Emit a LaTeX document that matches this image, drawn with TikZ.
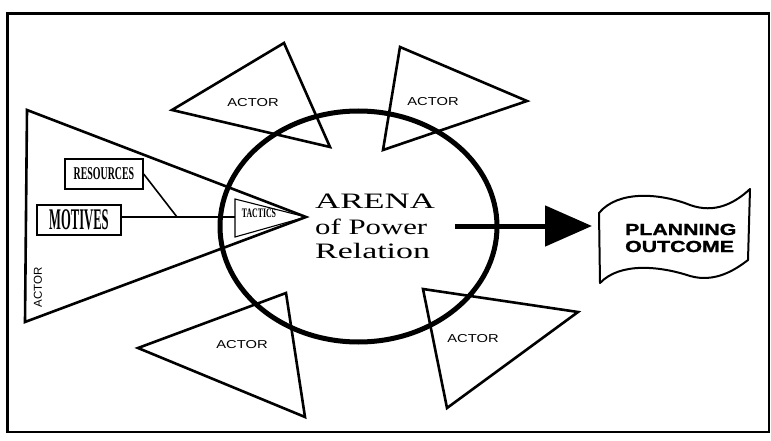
\documentclass[tikz,border=0pt]{standalone}
\usepackage{fontspec}
\setmainfont{Liberation Serif}
\setsansfont{Liberation Sans}
\newfontfamily\heavysans[FakeBold=1.2]{Liberation Sans Bold}
\usepackage{graphicx}
\usetikzlibrary{arrows.meta}
\begin{document}
\begin{tikzpicture}[x=1pt,y=-1pt,
  tri/.style={draw, line width=2.6pt, line join=miter},
  actortxt/.style={font=\sffamily\fontsize{11.5}{12}\selectfont, inner sep=0},
  boxnode/.style={draw, line width=1.4pt, inner sep=0},
  arenatxt/.style={font=\fontsize{22}{24}\selectfont, inner sep=0, anchor=base west},
  outtxt/.style={font=\heavysans\fontsize{16}{17}\selectfont, inner sep=0, anchor=base west}]
\useasboundingbox (0,0) rectangle (771,441);
% frame
\draw[line width=2.4pt] (7.5,13.5) rectangle (769,432);

% arena ellipse
\draw[line width=5pt] (358.5,226.5) ellipse [x radius=138.5pt, y radius=115.5pt];

% big left actor triangle
\coordinate (L1) at (27,110);
\coordinate (L2) at (25,322);
\coordinate (LT) at (306,217);
\draw[tri] (L1) -- (LT) -- (L2) -- cycle;
\node[actortxt, rotate=90] (actL) at (38,287) {ACTOR};

% tactics triangle
\coordinate (T1) at (235,199);
\coordinate (T2) at (235,237);
\coordinate (TW) at (235,217);
\draw[line width=1.1pt] (T1) -- (LT) -- (T2) -- cycle;
\node[inner sep=0] (tac) at (259,213) {\scalebox{0.6}[1]{\fontsize{13}{13}\selectfont\bfseries TACTICS}};

% boxes
\node[boxnode, minimum width=78pt, minimum height=30pt] (res) at (104,174)
  {\scalebox{0.55}[1]{\fontsize{18}{18}\selectfont\bfseries RESOURCES}};
\node[boxnode, minimum width=84pt, minimum height=30pt] (mot) at (79,220)
  {\scalebox{0.42}[1]{\fontsize{30}{30}\selectfont\bfseries MOTIVES}};
\coordinate (J) at (177,217);
\draw[line width=1.6pt] (mot.east |- J) -- (TW);
\draw[line width=1.6pt] (res.east) -- (J);

% top-left actor
\coordinate (a1) at (172,110);
\coordinate (a2) at (284,43);
\coordinate (a3) at (330,147);
\draw[tri] (a1) -- (a2) -- (a3) -- cycle;
\node[actortxt] (actTL) at (253,103) {\scalebox{1.28}[1]{ACTOR}};

% top-right actor
\coordinate (b1) at (400,47);
\coordinate (b2) at (527,101);
\coordinate (b3) at (383,150);
\draw[tri] (b1) -- (b2) -- (b3) -- cycle;
\node[actortxt] (actTR) at (433,102) {\scalebox{1.28}[1]{ACTOR}};

% bottom-left actor
\coordinate (c1) at (138,348);
\coordinate (c2) at (286,293);
\coordinate (c3) at (305,417);
\draw[tri] (c1) -- (c2) -- (c3) -- cycle;
\node[actortxt] (actBL) at (242,345) {\scalebox{1.28}[1]{ACTOR}};

% bottom-right actor
\coordinate (d1) at (423,289);
\coordinate (d2) at (578,312);
\coordinate (d3) at (447,408);
\draw[tri] (d1) -- (d2) -- (d3) -- cycle;
\node[actortxt] (actBR) at (473,339) {\scalebox{1.28}[1]{ACTOR}};

% arena text
\node[arenatxt] (ar1) at (315,208) {\scalebox{1.58}[1]{ARENA}};
\node[arenatxt] (ar2) at (315,234) {\scalebox{1.40}[1]{of Power}};
\node[arenatxt] (ar3) at (315,258) {\scalebox{1.54}[1]{Relation}};

% arrow
\coordinate (A0) at (455,226);
\coordinate (A1) at (592,226);
\draw[line width=5pt, -{Triangle[length=47pt,width=40pt]}] (A0) -- (A1);

% flag
\coordinate (f1) at (600,283);
\coordinate (f2) at (599,213);
\coordinate (f3) at (750,189);
\coordinate (f4) at (748,260);
\draw[line width=2pt, line join=round]
  (f1) -- (f2)
  .. controls (618,190) and (660,193) .. (690,205)
  .. controls (715,214) and (735,203) .. (f3)
  -- (f4)
  .. controls (735,270) and (715,283) .. (690,276)
  .. controls (660,266) and (620,262) .. (f1) -- cycle;
\node[outtxt] (pl) at (625,235) {\scalebox{1.33}[1]{PLANNING}};
\node[outtxt] (oc) at (625,252) {\scalebox{1.33}[1]{OUTCOME}};
\end{tikzpicture}
\end{document}
